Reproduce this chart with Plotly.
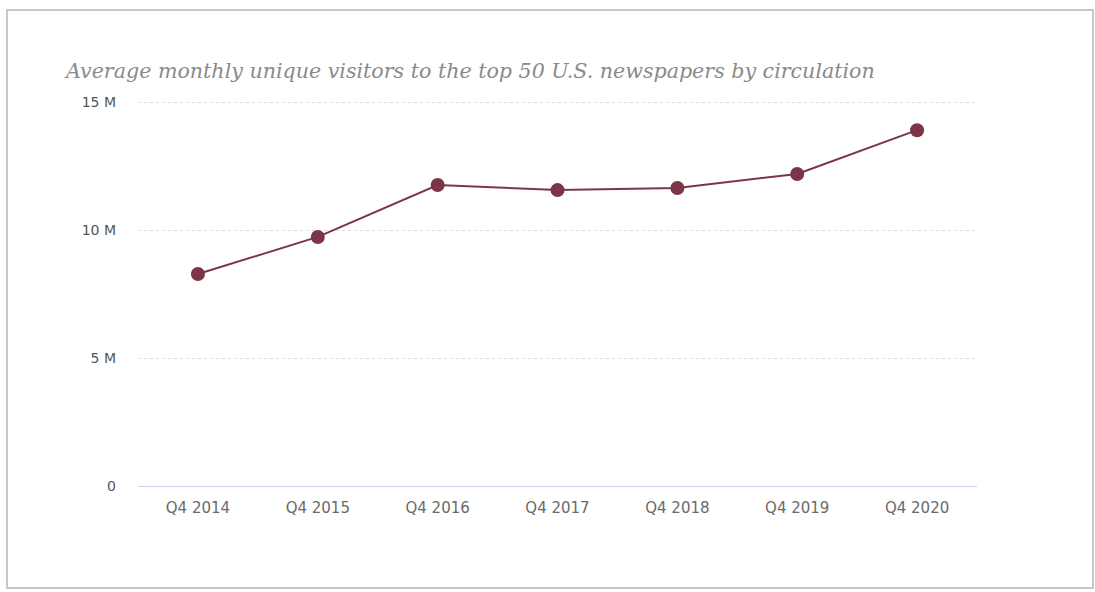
import plotly.graph_objects as go

categories = ["Q4 2014", "Q4 2015", "Q4 2016", "Q4 2017", "Q4 2018", "Q4 2019", "Q4 2020"]
visitors = [8.28e6, 9.73e6, 11.76e6, 11.56e6, 11.64e6, 12.19e6, 13.9e6]
ytick_vals = [0, 5e6, 10e6, 15e6]
ytick_text = ["0", "5 M", "10 M", "15 M"]
title_text = "Average monthly unique visitors to the top 50 U.S. newspapers by circulation"

W, H = 1095, 592
L, R, T, B = 138, 118, 101, 106
pw, ph = W - L - R, H - T - B
YMAX = 15.04e6

def px(x):
    return (x - L) / pw

def py(y):
    return (H - B - y) / ph

fig = go.Figure()
fig.add_trace(go.Scatter(
    x=categories, y=visitors, mode="lines+markers",
    line=dict(color="#7b3546", width=2),
    marker=dict(color="#7b3546", size=14),
    hoverinfo="x+y", showlegend=False,
))

fig.update_layout(
    width=W, height=H,
    margin=dict(l=L, r=R, t=T, b=B),
    paper_bgcolor="white", plot_bgcolor="white",
    xaxis=dict(
        type="category", range=[-0.5, 6.5],
        showgrid=False, showline=True, linecolor="#ccd6eb", linewidth=1,
        tickfont=dict(family="DejaVu Sans", size=15, color="#6a6a6a"),
        ticks="", ticklabelstandoff=8, zeroline=False,
    ),
    yaxis=dict(
        range=[0, YMAX], tickvals=ytick_vals, ticktext=ytick_text,
        showgrid=True, gridcolor="#dcdcdc", griddash="dot", gridwidth=1,
        zeroline=False, showline=False,
        tickfont=dict(family="DejaVu Sans", size=14, color="#555555"),
        ticks="", ticklabelstandoff=21,
    ),
    annotations=[dict(
        text=title_text, xref="paper", yref="paper",
        x=px(62), y=py(71), xanchor="left", yanchor="middle", showarrow=False,
        font=dict(family="DejaVu Serif", size=20.6, color="#8a8a8a", style="italic"),
    )],
    shapes=[dict(
        type="rect", xref="paper", yref="paper",
        x0=px(7), x1=px(1093), y0=py(588), y1=py(10),
        line=dict(color="#c8c8c8", width=2), fillcolor="rgba(0,0,0,0)", layer="below",
    )],
)

fig.write_html("out.html")
